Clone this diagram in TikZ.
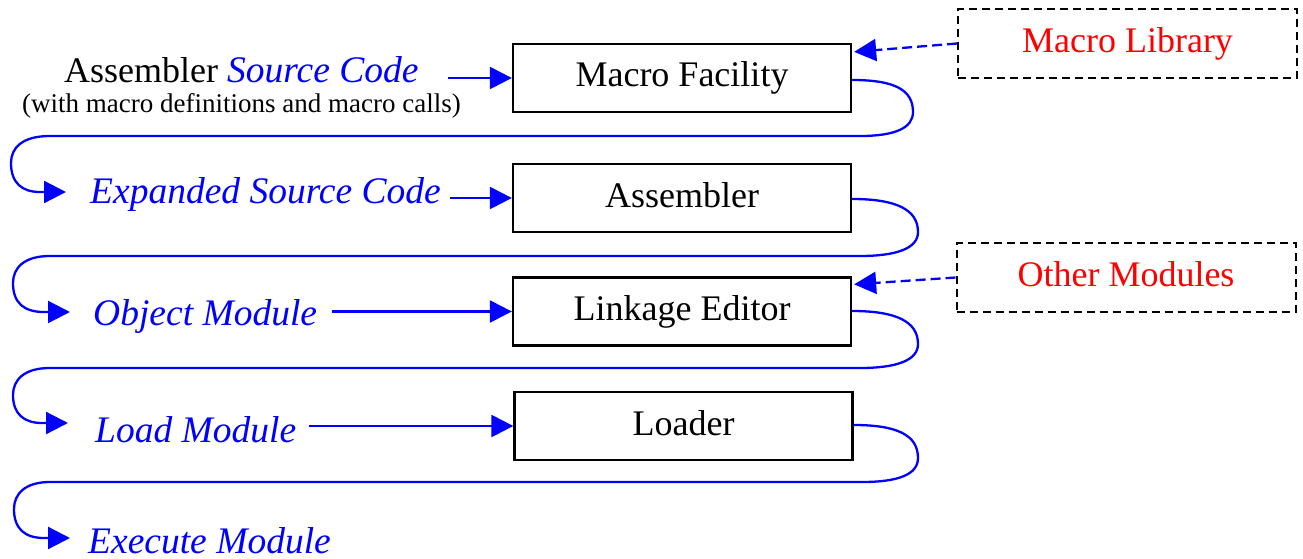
\documentclass[tikz,border=0pt]{standalone}
\usepackage{fontspec}
\setmainfont{Liberation Serif}
\usetikzlibrary{arrows.meta,calc}
\definecolor{flowblue}{RGB}{0,0,255}
\definecolor{libred}{RGB}{255,0,0}
\newcommand{\bigsize}{\fontsize{36}{40}\selectfont}
\newcommand{\itsize}{\fontsize{37.5}{42}\selectfont\itshape}
\begin{document}
\begin{tikzpicture}[x=1pt,y=-1pt,
  tool/.style={draw=black, line width=2.3pt, minimum width=338pt, minimum height=68pt,
    inner sep=0pt, font=\bigsize, text height=25pt, text depth=7pt},
  extbox/.style={draw=black, line width=2pt, dash pattern=on 8pt off 5pt,
    minimum width=339pt, minimum height=69pt, inner sep=0pt, text=libred,
    font=\bigsize, text height=25pt, text depth=7pt},
  caption/.style={inner sep=0pt, anchor=base west, font=\bigsize},
  product/.style={caption, text=flowblue, font=\itsize},
  flow/.style={draw=flowblue, line width=2.3pt, -{Triangle[length=22pt,width=22pt]}},
  feed/.style={flow, dash pattern=on 10pt off 5pt},
]
\useasboundingbox (0,0) rectangle (1303,559);

% processing stages
\node[tool] (mf)  at (682,78)    {Macro Facility};
\node[tool] (asm) at (682,198)   {Assembler};
\node[tool] (le)  at (682,311.5) {Linkage Editor};
\node[tool] (ld)  at (683.5,426) {Loader};

% external inputs
\node[extbox] (lib)    at (1127.5,43.5) {Macro Library};
\node[extbox] (othmod) at (1126,277.5)  {Other Modules};

% intermediate products
\node[caption] (src) at (64,83) {Assembler \textcolor{flowblue}{\itsize Source Code}};
\node[inner sep=0pt, anchor=base west, font=\fontsize{27}{30}\selectfont] (srcnote) at (22,113)
  {(with macro definitions and macro calls)};
\node[product] (esc)    at (90,203) {Expanded Source Code};
\node[product] (objmod) at (93,325) {Object Module};
\node[product] (lm)     at (95,442) {Load Module};
\node[product] (em)     at (88,553) {Execute Module};

% straight feeds into each stage
\draw[flow] ($(src.east |- mf.west)+(29,0)$) -- (mf.west);
\draw[flow] ($(esc.east |- asm.west)+(9,0)$) -- (asm.west);
\draw[flow] ($(objmod.east |- le.west)+(15,0)$) -- (le.west);
\draw[flow] ($(lm.east |- ld.west)+(13,0)$) -- (ld.west);

% library and module inputs
\draw[feed] (lib.west) -- ([xshift=2pt,yshift=-9pt]mf.north east);
\draw[feed] (othmod.west) -- ([xshift=2pt,yshift=-8pt]le.north east);

% output of each stage wraps round to the next product
\draw[flow] ([yshift=-2pt]mf.east)
  .. controls (895,80) and (913,90) .. (913,112)
  .. controls (913,128) and (895,136) .. (860,136)
  -- (50,136)
  .. controls (22,136) and (11,148) .. (11,163)
  .. controls (11,183) and (22,192) .. (40,192)
  -- ([xshift=-24pt,yshift=11pt]esc.base west);

\draw[flow] ([yshift=-1pt]asm.east)
  .. controls (895,199) and (918,209) .. (918,232)
  .. controls (918,249) and (895,256) .. (860,256)
  -- (50,256)
  .. controls (24,256) and (13,268) .. (13,283)
  .. controls (13,303) and (24,312) .. (44,312)
  -- ([xshift=-23pt,yshift=13pt]objmod.base west);

\draw[flow] ([yshift=0.5pt]le.east)
  .. controls (895,311) and (918,321) .. (918,344)
  .. controls (918,361) and (895,368) .. (860,368)
  -- (50,368)
  .. controls (24,368) and (13,380) .. (13,395)
  .. controls (13,414) and (24,423) .. (42,423)
  -- ([xshift=-27pt,yshift=19pt]lm.base west);

\draw[flow] ([yshift=1pt]ld.east)
  .. controls (897,425) and (918,435) .. (918,458)
  .. controls (918,475) and (897,482) .. (862,482)
  -- (50,482)
  .. controls (25,482) and (14,494) .. (14,509)
  .. controls (14,529) and (25,538) .. (44,538)
  -- ([xshift=-18pt,yshift=15pt]em.base west);
\end{tikzpicture}
\end{document}
